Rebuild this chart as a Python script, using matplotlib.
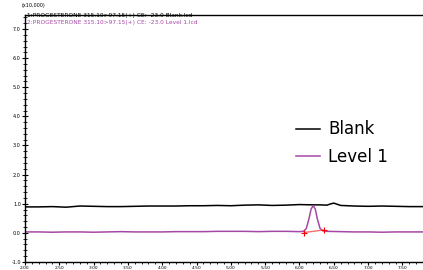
import matplotlib.pyplot as plt
from matplotlib.ticker import MultipleLocator

# retention time (min) and intensity (x10,000)
blank_time = [2.0, 2.2, 2.4, 2.6, 2.8, 3.0, 3.2, 3.4, 3.6, 3.8, 4.0, 4.2, 4.4,
              4.6, 4.8, 5.0, 5.2, 5.4, 5.6, 5.8, 6.0, 6.2, 6.3, 6.4, 6.45,
              6.5, 6.55, 6.6, 6.8, 7.0, 7.2, 7.4, 7.6, 7.8]
blank = [0.89, 0.89, 0.90, 0.88, 0.92, 0.91, 0.90, 0.90, 0.91, 0.92, 0.92,
         0.92, 0.93, 0.93, 0.94, 0.93, 0.95, 0.96, 0.94, 0.95, 0.97, 0.96,
         0.96, 0.95, 0.99, 1.02, 0.98, 0.94, 0.92, 0.91, 0.92, 0.91, 0.90,
         0.90]

level1_time = [2.0, 2.2, 2.4, 2.6, 2.8, 3.0, 3.2, 3.4, 3.6, 3.8, 4.0, 4.2,
               4.4, 4.6, 4.8, 5.0, 5.2, 5.4, 5.6, 5.8, 6.0, 6.06, 6.1, 6.14,
               6.17, 6.2, 6.23, 6.26, 6.3, 6.34, 6.4, 6.6, 6.8, 7.0, 7.2,
               7.4, 7.6, 7.8]
level1 = [0.03, 0.03, 0.02, 0.03, 0.03, 0.02, 0.03, 0.04, 0.03, 0.03, 0.03,
          0.04, 0.04, 0.04, 0.05, 0.05, 0.05, 0.04, 0.05, 0.05, 0.04, 0.05,
          0.15, 0.50, 0.82, 0.93, 0.82, 0.48, 0.15, 0.07, 0.05, 0.04, 0.03,
          0.03, 0.02, 0.03, 0.03, 0.03]

peak_start = (6.07, 0.01)
peak_end = (6.36, 0.10)

y_ticks = [-1.0, 0.0, 1.0, 2.0, 3.0, 4.0, 5.0, 6.0, 7.0]
x_ticks = [2.0, 2.5, 3.0, 3.5, 4.0, 4.5, 5.0, 5.5, 6.0, 6.5, 7.0, 7.5]

purple = "#a548a5"

fig = plt.figure(figsize=(4.23, 2.70), dpi=100)
ax = fig.add_axes([0.059, 0.03, 0.941, 0.914])

ax.plot(blank_time, blank, color="black", lw=1.1, label="Blank")
ax.plot(level1_time, level1, color=purple, lw=1.1, label="Level 1")
ax.plot([peak_start[0], peak_end[0]], [peak_start[1], peak_end[1]],
        color="#f07070", lw=1.0)
ax.plot([peak_start[0], peak_end[0]], [peak_start[1], peak_end[1]], "+",
        color="red", ms=4, mew=0.8)

ax.set_xlim(2.0, 7.8)
ax.set_ylim(-1.0, 7.48)
ax.set_yticks(y_ticks)
ax.set_yticklabels([f"{v:.1f}" for v in y_ticks])
ax.set_xticks(x_ticks)
ax.set_xticklabels([f"{v:.2f}" for v in x_ticks])
ax.xaxis.set_minor_locator(MultipleLocator(0.1))
ax.yaxis.set_minor_locator(MultipleLocator(0.2))
ax.tick_params(axis="y", which="major", direction="inout", length=4,
               width=0.8, labelsize=3.5, pad=1)
ax.tick_params(axis="y", which="minor", direction="inout", length=2.5,
               width=0.6)
ax.tick_params(axis="x", which="major", direction="out", length=2.5,
               width=0.8, labelsize=3.2, pad=0.5)
ax.tick_params(axis="x", which="minor", direction="out", length=1.5,
               width=0.6)
for s in ["left", "bottom", "top"]:
    ax.spines[s].set_linewidth(1.0)
ax.spines["right"].set_visible(False)

fig.text(0.052, 0.978, "(x10,000)", fontsize=3.5, color="black",
         va="center")
ax.text(0.004, 1.0, "1:PROGESTERONE 315.10>97.15(+) CE: -23.0 Blank.lcd",
        transform=ax.transAxes, fontsize=4.2, color="black", va="center")
ax.text(0.004, 0.97, "2:PROGESTERONE 315.10>97.15(+) CE: -23.0 Level 1.lcd",
        transform=ax.transAxes, fontsize=4.2, color=purple, va="center")

ax.legend(loc="upper left", bbox_to_anchor=(0.665, 0.6), frameon=False,
          fontsize=12, handlelength=1.45, handletextpad=0.45,
          labelspacing=0.55, borderaxespad=0)

fig.savefig("out.png", dpi=100)
